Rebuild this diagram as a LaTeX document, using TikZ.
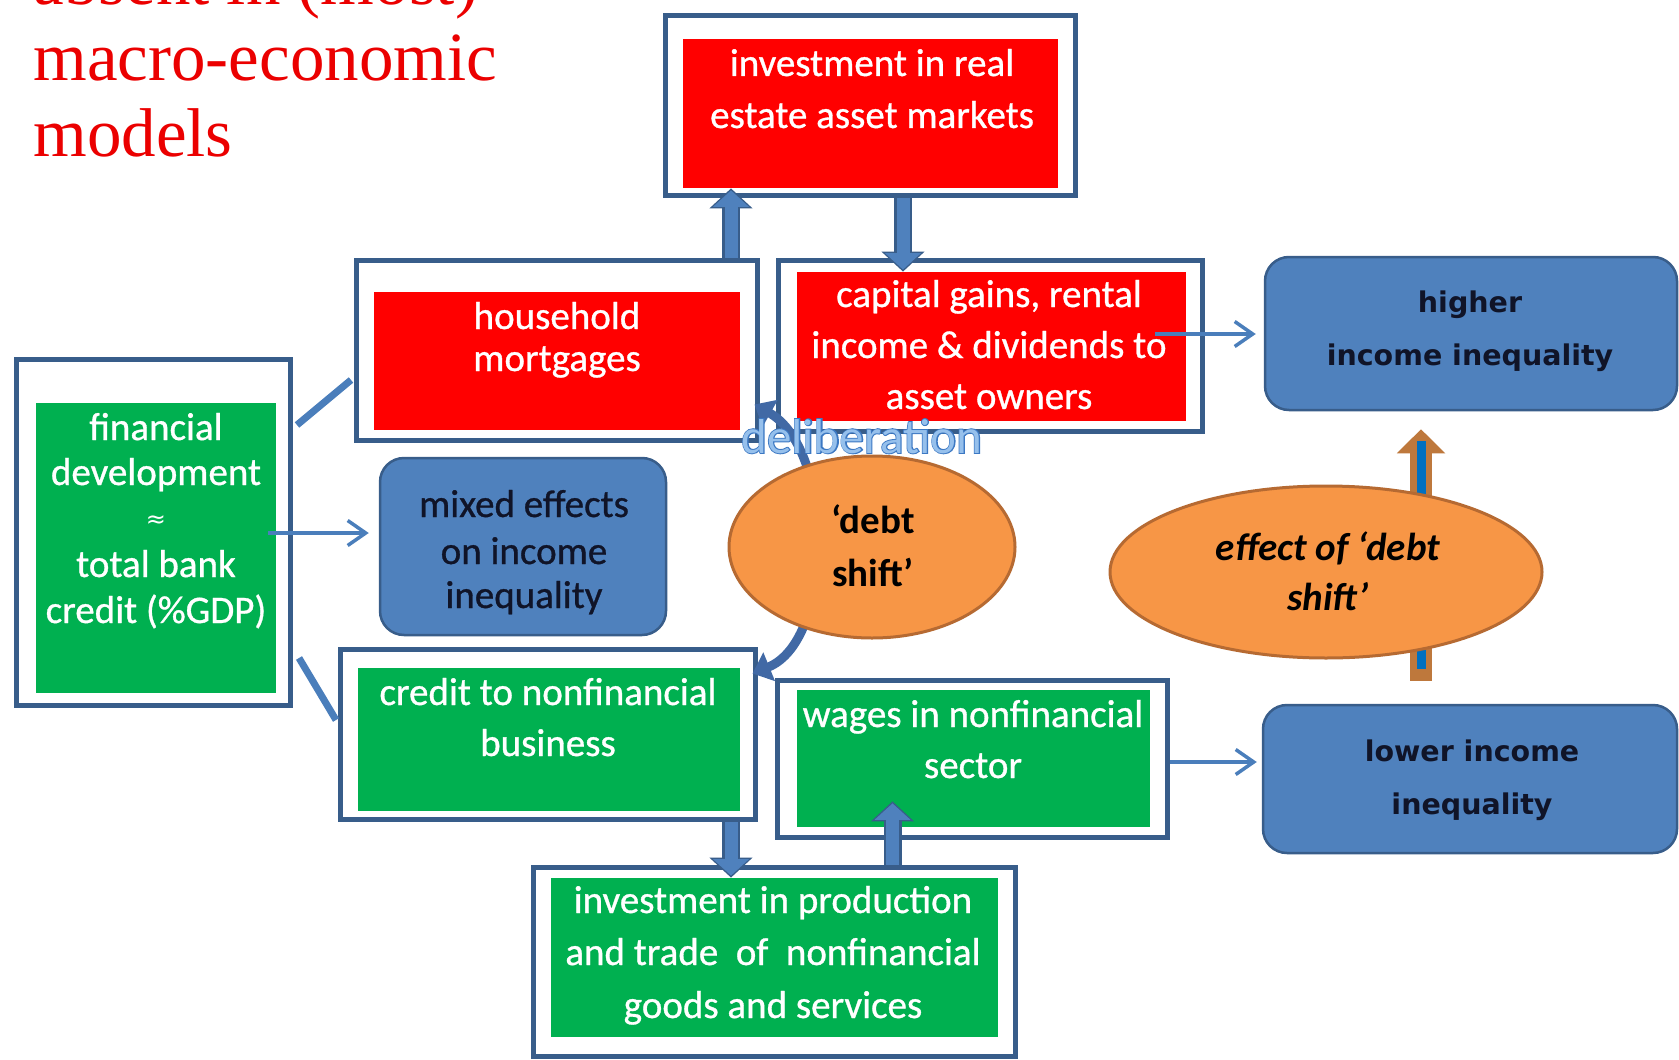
\documentclass[tikz,border=0pt]{standalone}
\usepackage{fontspec}
\setmainfont{Carlito}
\newfontfamily\titlefont{Liberation Serif}
\newfontfamily\verdfont{DejaVu Sans}
\newfontfamily\boxfont[FakeBold=0.8]{Carlito}
\newfontfamily\delfontB[FakeBold=4]{Carlito}
\usetikzlibrary{shapes.geometric,arrows.meta,calc}
\definecolor{frameblue}{RGB}{56,93,138}
\definecolor{boxblue}{RGB}{79,129,189}
\definecolor{lineblue}{RGB}{74,126,187}
\definecolor{curveblue}{RGB}{65,105,165}
\definecolor{boxred}{RGB}{255,0,0}
\definecolor{boxgreen}{RGB}{0,176,80}
\definecolor{orangefill}{RGB}{247,150,70}
\definecolor{orangeedge}{RGB}{182,106,50}
\definecolor{darktext}{RGB}{16,20,40}
\definecolor{titlered}{RGB}{235,0,0}
\definecolor{arrowbrown}{RGB}{190,120,60}
\definecolor{coreblue}{RGB}{0,112,192}
\definecolor{delout}{RGB}{60,120,195}
\definecolor{delin}{RGB}{150,192,236}
\tikzset{
  frame/.style={draw=frameblue, line width=2.5pt, fill=white, inner sep=0pt},
  redbox/.style={fill=boxred, inner sep=0pt},
  greenbox/.style={fill=boxgreen, inner sep=0pt},
  bluebox/.style={fill=boxblue, draw=frameblue, line width=1.25pt, rounded corners=12pt, inner sep=0pt},
  oval/.style={ellipse, fill=orangefill, draw=orangeedge, line width=1.5pt, inner sep=0pt},
  wt/.style={anchor=base, inner sep=0pt, text=white, font=\boxfont\fontsize{19.5pt}{23pt}\selectfont},
  dk/.style={anchor=base, inner sep=0pt, text=darktext, font=\boxfont\fontsize{19.5pt}{23pt}\selectfont},
  vb/.style={anchor=base, inner sep=0pt, text=darktext, font=\verdfont\bfseries\fontsize{14.25pt}{17pt}\selectfont},
  eb/.style={anchor=base, inner sep=0pt, text=black, font=\bfseries\fontsize{19.5pt}{23pt}\selectfont},
  ebi/.style={anchor=base, inner sep=0pt, text=black, font=\bfseries\itshape\fontsize{19.5pt}{23pt}\selectfont},
  ttl/.style={anchor=base west, inner sep=0pt, text=titlered, font=\titlefont\fontsize{34.5pt}{40pt}\selectfont},
  thinarrow/.style={draw=lineblue, line width=1.75pt, -{Straight Barb[length=9pt,width=12.5pt,line width=1.75pt]}},
  link/.style={draw=lineblue, line width=3.5pt},
  blockouter/.style={draw=frameblue, line width=9pt, -{Triangle[width=21pt,length=10pt]}},
  blockinner/.style={draw=boxblue, line width=6.5pt, shorten >=1pt, -{Triangle[width=17.5pt,length=8.2pt]}},
  brownouter/.style={draw=arrowbrown, line width=11pt, -{Triangle[width=23.5pt,length=12pt]}},
  browncore/.style={draw=coreblue, line width=4.5pt},
  curvearrow/.style={draw=curveblue, line width=4.5pt, {Triangle[width=15pt,length=9pt]}-{Triangle[width=15pt,length=9pt]}}
}
\begin{document}
\begin{tikzpicture}[x=0.5pt, y=-0.5pt]
\useasboundingbox (0,0) rectangle (1679,1059);
\clip (0,0) rectangle (1679,1059);
\fill[white] (0,0) rectangle (1679,1059);

% title
\node[ttl] (title1) at (33,5) {absent in (most)};
\node[ttl] (title2) at (33,81) {macro-economic};
\node[ttl] (title3) at (33,157) {models};

% frames and boxes
\node[frame, minimum width=205pt, minimum height=90pt] (topF) at (870.5,105.5) {};
\node[redbox, minimum width=187.5pt, minimum height=74.5pt] (topR) at (870.5,113.5) {};
\node[frame, minimum width=200.5pt, minimum height=90pt] (hhF) at (557,350.5) {};
\node[redbox, minimum width=183pt, minimum height=69pt] (hhR) at (557,361) {};
\node[frame, minimum width=212pt, minimum height=85.5pt] (cgF) at (990.5,346) {};
\node[redbox, minimum width=194.5pt, minimum height=74.5pt] (cgR) at (991.5,346.5) {};
\node[frame, minimum width=137pt, minimum height=173pt] (fF) at (153.5,532.5) {};
\node[greenbox, minimum width=120pt, minimum height=145pt] (fG) at (156,548) {};
\node[bluebox, minimum width=143pt, minimum height=88.5pt] (mx) at (523,546.5) {};
\node[frame, minimum width=207.5pt, minimum height=85pt] (crF) at (548,734.5) {};
\node[greenbox, minimum width=191pt, minimum height=71.5pt] (crG) at (549,739.5) {};
\node[frame, minimum width=195pt, minimum height=78.5pt] (wF) at (972.5,759) {};
\node[greenbox, minimum width=176.5pt, minimum height=68.5pt] (wG) at (973.5,758.5) {};
\node[frame, minimum width=241pt, minimum height=94.25pt] (pF) at (774.5,961.75) {};
\node[greenbox, minimum width=223.5pt, minimum height=79.5pt] (pG) at (774.5,957.5) {};
\node[bluebox, minimum width=206pt, minimum height=76.5pt] (hi) at (1471,333.5) {};
\node[bluebox, minimum width=207pt, minimum height=74pt] (lo) at (1470,779) {};

% links from financial development
\draw[link] ($(fF.east)+(4,-107.5)$) -- ($(hhF.west)+(-3,29.5)$);
\draw[link] ($(fF.east)+(6,125.5)$) -- ($(crF.west)+(-2,-14.5)$);

% thin arrows
\draw[thinarrow] ($(fG.east)+(-8,-15)$) -- ($(mx.west)+(-10,-13.5)$);
\draw[thinarrow] ($(cgR.east)+(-31,-12.5)$) -- ($(hi.west)+(-8,0.5)$);
\draw[thinarrow] ($(wF.east)+(0,3)$) -- ($(lo.west)+(-5,-17)$);

% block arrows
\draw[blockouter] ($(hhF.north)+(174,0)$) -- ($(topR.south)+(-139.5,0)$);
\draw[blockinner] ($(hhF.north)+(174,0)$) -- ($(topR.south)+(-139.5,0)$);
\draw[blockouter] ($(topF.south)+(32.5,0)$) -- ($(cgR.north)+(-88.5,0)$);
\draw[blockinner] ($(topF.south)+(32.5,0)$) -- ($(cgR.north)+(-88.5,0)$);
\draw[blockouter] ($(crF.south)+(183,0)$) -- ($(pG.north)+(-43.5,0)$);
\draw[blockinner] ($(crF.south)+(183,0)$) -- ($(pG.north)+(-43.5,0)$);
\draw[blockouter] ($(pF.north)+(118,0)$) -- ($(wG.south)+(-81,-26)$);
\draw[blockinner] ($(pF.north)+(118,0)$) -- ($(wG.south)+(-81,-26)$);

% curved debt-shift arrow and ellipse
\draw[curvearrow] ($(hhF.south east)+(-5.5,-38.5)$) .. controls (835,450) and (835,640) .. ($(crF.north east)+(-5.5,26.5)$);
\node[oval, minimum width=143pt, minimum height=91pt] (ds) at (872,547) {};

% vertical effect arrow and ellipse
\draw[brownouter] ($(lo.north)+(-49,-23)$) -- ($(hi.south)+(-50,18)$);
\draw[browncore] ($(lo.north)+(-49,-35)$) -- ($(hi.south)+(-50,30)$);
\node[oval, minimum width=216pt, minimum height=86pt] (ef) at (1326,572) {};

% texts
\node[wt] (t1a) at (872,76) {investment in real};
\node[wt] (t1b) at (872,128) {estate asset markets};
\node[wt] (t2a) at (557,329) {household};
\node[wt] (t2b) at (557,371) {mortgages};
\node[wt] (t3a) at (989,307) {capital gains, rental};
\node[wt] (t3b) at (989,358) {income \& dividends to};
\node[wt] (t3c) at (989,409) {asset owners};
\node[wt] (t4a) at (156,440) {financial};
\node[wt] (t4b) at (156,485) {development};
\node[anchor=base, inner sep=0pt, text=white, font=\verdfont\fontsize{12pt}{14pt}\selectfont] (t4c) at (156,527) {≈};
\node[wt] (t4d) at (156,577) {total bank};
\node[wt] (t4e) at (156,623) {credit (\%GDP)};
\node[dk] (t5a) at (524,517) {mixed effects};
\node[dk] (t5b) at (524,564) {on income};
\node[dk] (t5c) at (524,608) {inequality};
\node[wt] (t6a) at (548,705) {credit to nonfinancial};
\node[wt] (t6b) at (548,756) {business};
\node[wt] (t7a) at (973,727) {wages in nonfinancial};
\node[wt] (t7b) at (973,778) {sector};
\node[wt] (t8a) at (773,913) {investment in production};
\node[wt] (t8b) at (773,965) {and trade\ \ of\ \ nonfinancial};
\node[wt] (t8c) at (773,1018) {goods and services};
\node[eb] (t9a) at (873,533) {‘debt};
\node[eb] (t9b) at (873,586) {shift’};
\node[ebi] (t10a) at (1328,560) {effect of ‘debt};
\node[ebi] (t10b) at (1328,610) {shift’};
\node[vb] (t11a) at (1470,312) {higher};
\node[vb] (t11b) at (1470,365) {income inequality};
\node[vb] (t12a) at (1472,761) {lower income};
\node[vb] (t12b) at (1472,814) {inequality};

% deliberation word
\node[anchor=base west, inner sep=0pt, text=delout, font=\delfontB\fontsize{24.5pt}{28pt}\selectfont] (delB) at (741,453) {deliberation};
\node[anchor=base west, inner sep=0pt, text=delin, font=\fontsize{24.5pt}{28pt}\selectfont] (del) at (741,453) {deliberation};
\end{tikzpicture}
\end{document}
